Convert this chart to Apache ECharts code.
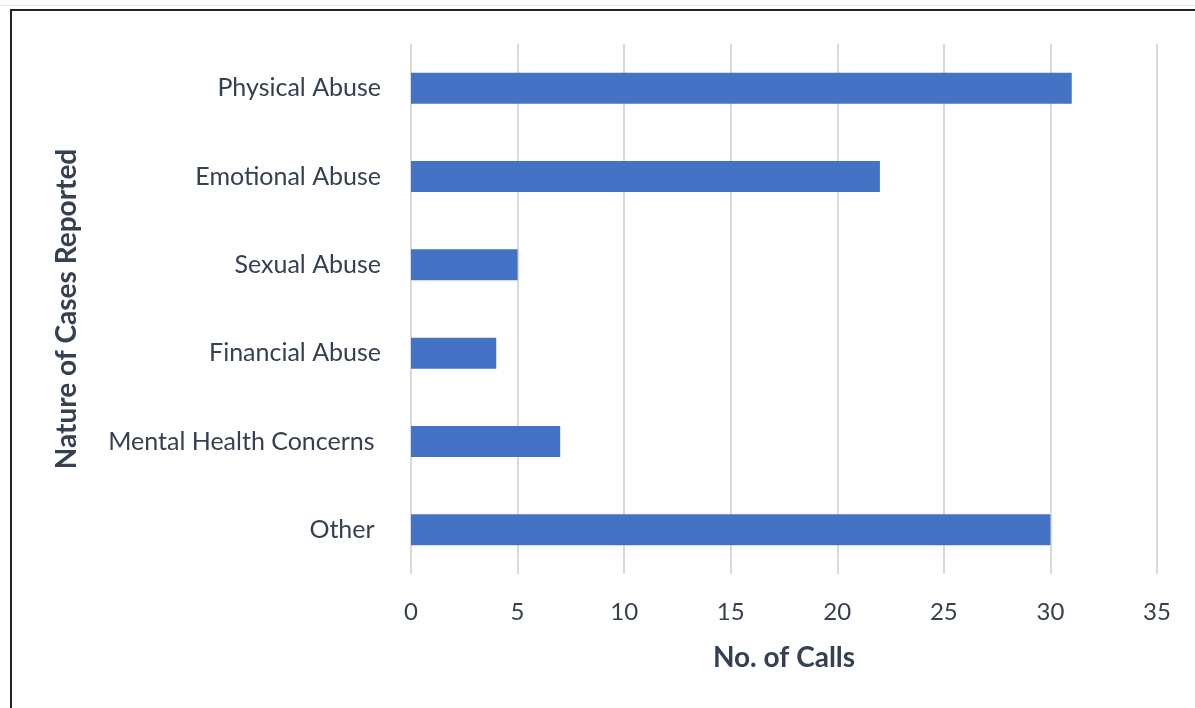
<!DOCTYPE html>
<html>
<head>
<meta charset="utf-8">
<script src="https://cdn.jsdelivr.net/npm/echarts@6/dist/echarts.min.js"></script>
<style>
  html, body { margin: 0; padding: 0; background: #fff; overflow: hidden; }
  #faint { position: absolute; left: 0; top: 5px; width: 1195px; height: 1px; background: #e6e6e6; }
  #frame { position: absolute; left: 10px; top: 9px; width: 1200px; height: 720px;
           border-left: 2px solid #222; border-top: 2px solid #222; }
  #chart { position: absolute; left: 0; top: 0; width: 1195px; height: 708px; }
</style>
</head>
<body>
<div id="faint"></div>
<div id="frame"></div>
<div id="chart"></div>
<script>
// categories top to bottom as they appear in the picture
const categories = ['Physical Abuse', 'Emotional Abuse', 'Sexual Abuse', 'Financial Abuse', 'Mental Health Concerns ', 'Other '];
const calls = [31, 22, 5, 4, 7, 30];
const xTicks = [0, 5, 10, 15, 20, 25, 30, 35];

const textColor = '#354052';
const font = 'Lato';

const chart = echarts.init(document.getElementById('chart'), null, { renderer: 'canvas' });
chart.setOption({
  animation: false,
  grid: { left: 411, right: 38, top: 44, bottom: 134, containLabel: false },
  xAxis: {
    type: 'value',
    min: xTicks[0],
    max: xTicks[xTicks.length - 1],
    interval: 5,
    name: 'No. of Calls',
    nameLocation: 'middle',
    nameGap: 70,
    nameTextStyle: { color: textColor, fontSize: 28, fontWeight: 'bold', fontFamily: font },
    axisLine: { show: false },
    axisTick: { show: false },
    axisLabel: { color: textColor, fontSize: 24, fontFamily: font, margin: 26 },
    splitLine: { show: true, lineStyle: { color: '#d9d9d9', width: 2 } },
  },
  yAxis: {
    type: 'category',
    data: categories.slice().reverse(),
    name: 'Nature of Cases Reported',
    nameLocation: 'middle',
    nameGap: 330,
    nameRotate: 90,
    nameTextStyle: { color: textColor, fontSize: 28, fontWeight: 'bold', fontFamily: font },
    axisLine: { show: false },
    axisTick: { show: false },
    axisLabel: { color: textColor, fontSize: 25, fontFamily: font, margin: 30 },
    splitLine: { show: false },
  },
  series: [{
    type: 'bar',
    data: calls.slice().reverse(),
    barWidth: 31,
    itemStyle: { color: '#4472c4' },
  }],
});
</script>
</body>
</html>
